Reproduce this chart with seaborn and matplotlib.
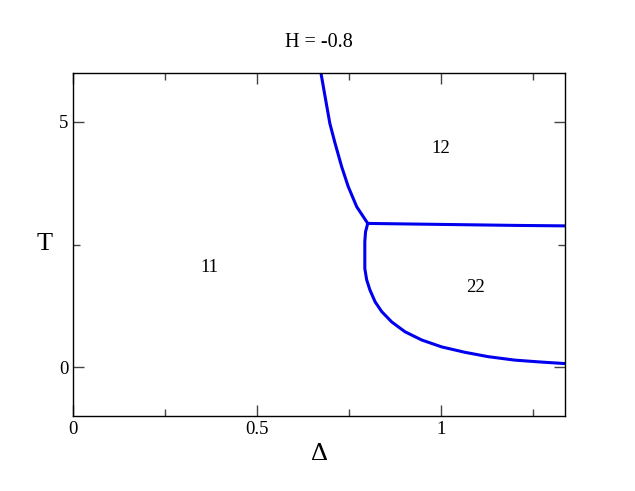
import matplotlib
matplotlib.use("Agg")
import matplotlib.pyplot as plt
import seaborn as sns
import pandas as pd
from matplotlib.ticker import MultipleLocator, FuncFormatter

# Data
upper_delta = [0.674, 0.685, 0.698, 0.712, 0.730, 0.748, 0.771, 0.801]
upper_T = [5.99, 5.52, 4.97, 4.57, 4.09, 3.68, 3.27, 2.93]

horiz_delta = [0.801, 1.0, 1.2, 1.337]
horiz_T = [2.93, 2.91, 2.89, 2.88]

lower_delta = [0.801, 0.795, 0.793, 0.793, 0.798, 0.807, 0.821, 0.839, 0.866,
               0.902, 0.948, 1.002, 1.065, 1.129, 1.201, 1.274, 1.337]
lower_T = [2.93, 2.76, 2.56, 2.01, 1.78, 1.57, 1.33, 1.13, 0.92,
           0.72, 0.55, 0.41, 0.30, 0.21, 0.14, 0.10, 0.07]

region_labels = ["11", "12", "22"]
region_delta = [0.372, 1.0, 1.095]
region_T = [2.04, 4.45, 1.63]

title = "H = -0.8"

sns.set_style("ticks")
plt.rcParams["font.family"] = ["Liberation Serif", "DejaVu Serif"]
plt.rcParams["text.color"] = "black"
plt.rcParams["axes.labelcolor"] = "black"
plt.rcParams["xtick.color"] = "black"
plt.rcParams["ytick.color"] = "black"

fig = plt.figure(figsize=(6.35, 4.91), dpi=100)
ax = fig.add_axes([73/635, 75/491, (565-73)/635, (416-73)/491])

segments = [
    (upper_delta, upper_T),
    (horiz_delta, horiz_T),
    (lower_delta, lower_T),
]
for d, t in segments:
    df = pd.DataFrame({"Delta": d, "T": t})
    sns.lineplot(data=df, x="Delta", y="T", sort=False, color="#0000ee",
                 linewidth=2.2, ax=ax, estimator=None)

for lab, x, y in zip(region_labels, region_delta, region_T):
    ax.text(x, y, lab, ha="center", va="center", fontsize=13.5, color="black")

ax.set_xlim(0, 1.337)
ax.set_ylim(-1, 6)
ax.xaxis.set_major_locator(MultipleLocator(0.5))
ax.xaxis.set_minor_locator(MultipleLocator(0.25))
ax.yaxis.set_major_locator(MultipleLocator(5))
ax.yaxis.set_minor_locator(MultipleLocator(2.5))
ax.xaxis.set_major_formatter(FuncFormatter(lambda v, p: f"{v:g}"))
ax.yaxis.set_major_formatter(FuncFormatter(lambda v, p: f"{v:g}"))
ax.tick_params(which="both", direction="in", top=True, right=True, labelsize=13.5,
               color="#444444", labelcolor="black")
ax.tick_params(which="major", length=8, width=1)
ax.tick_params(which="minor", length=5, width=1)
for s in ax.spines.values():
    s.set_visible(True)
    s.set_linewidth(1)
    s.set_color("black")

ax.set_xlabel("Δ", fontsize=19, labelpad=4)
ax.set_ylabel("T", fontsize=19, rotation=0, labelpad=10, va="center")
ax.set_title(title, fontsize=14.5, pad=19)

fig.savefig("out.png", dpi=100)
